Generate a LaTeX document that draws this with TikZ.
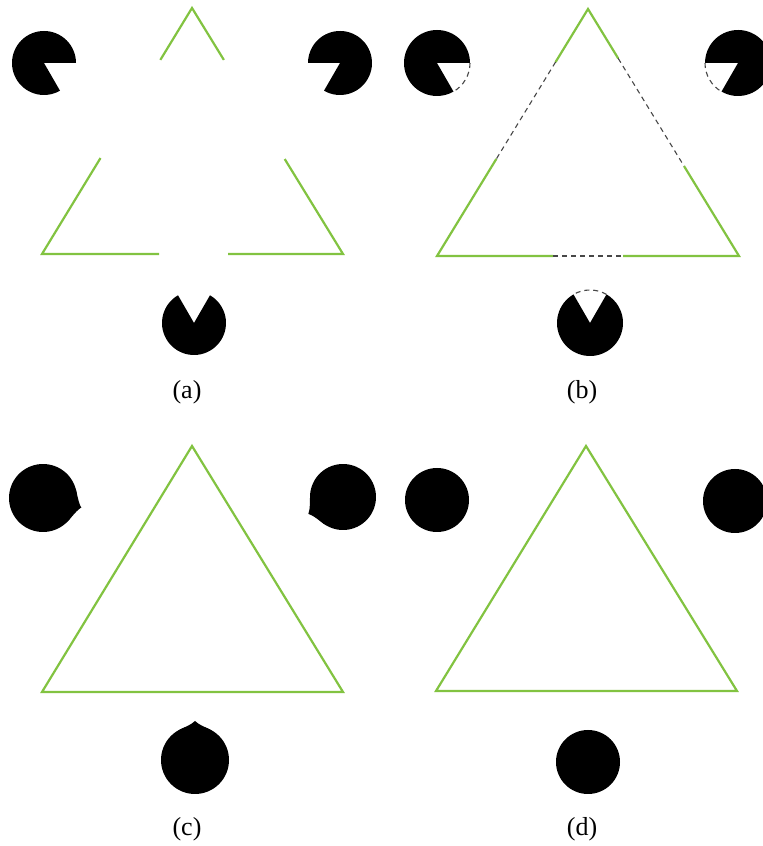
\documentclass[tikz,border=0pt]{standalone}
\usepackage{fontspec}
\setmainfont{Liberation Serif}
\usetikzlibrary{calc}
\definecolor{edgegreen}{HTML}{82C341}
\definecolor{gapgrey}{HTML}{474747}

\begin{document}
\begin{tikzpicture}[
  x=1pt, y=1pt,
  edge/.style={draw=edgegreen, line width=2.2pt, line join=miter},
  gap/.style={draw=gapgrey, line width=1.1pt, dash pattern=on 5pt off 4pt},
  disc/.style={fill=black},
  caption/.style={font=\fontsize{26}{30}\selectfont, inner sep=0pt}
]
\useasboundingbox (0,0) rectangle (763,846);

% (a) inducers and a broken outline
\fill[disc] (44,783) -- ++(0:32) arc[start angle=0, end angle=300, radius=32] -- cycle;
\fill[disc] (340,783) -- ++(240:32) arc[start angle=240, end angle=540, radius=32] -- cycle;
\fill[disc] (194,523) -- ++(120:32) arc[start angle=120, end angle=420, radius=32] -- cycle;
\coordinate (a1) at (192,838);
\coordinate (a2) at (42,592);
\coordinate (a3) at (343,592);
\draw[edge] ($(a1)!0.211!(a2)$) -- (a1) -- ($(a1)!0.211!(a3)$);
\draw[edge] ($(a1)!0.61!(a2)$) -- (a2) -- (159,592);
\draw[edge] (228,592) -- (a3) -- ($(a1)!0.614!(a3)$);
\node[caption] (cap-a) at (187,454) {(a)};

% (b) the same with the missing parts completed
\fill[disc] (437,783) -- ++(0:33) arc[start angle=0, end angle=300, radius=33] -- cycle;
\fill[disc] (738,783) -- ++(240:33) arc[start angle=240, end angle=540, radius=33] -- cycle;
\fill[disc] (590,523) -- ++(120:33) arc[start angle=120, end angle=420, radius=33] -- cycle;
\draw[gap] (437,783) ++(0:33) arc[start angle=0, end angle=-60, radius=33];
\draw[gap] (738,783) ++(180:33) arc[start angle=180, end angle=240, radius=33];
\draw[gap] (590,523) ++(60:33) arc[start angle=60, end angle=120, radius=33];
\coordinate (b1) at (588,837);
\coordinate (b2) at (437,590);
\coordinate (b3) at (739,590);
\coordinate (bl1) at ($(b1)!0.215!(b2)$);
\coordinate (bl2) at ($(b1)!0.607!(b2)$);
\coordinate (br1) at ($(b1)!0.2!(b3)$);
\coordinate (br2) at ($(b1)!0.636!(b3)$);
\coordinate (bb1) at (553,590);
\coordinate (bb2) at (623,590);
\draw[edge] (bl1) -- (b1) -- (br1);
\draw[edge] (bl2) -- (b2) -- (bb1);
\draw[edge] (bb2) -- (b3) -- (br2);
\draw[gap] (bl1) -- (bl2);
\draw[gap] (br1) -- (br2);
\draw[gap] (bb1) -- (bb2);
\node[caption] (cap-b) at (582,454) {(b)};

% (c) filled-in discs with small nubs
\begin{scope}[shift={(43,348)}, rotate=-14]
  \fill[disc] (0,0) circle[radius=34];
  \fill[disc] (29.4,17) .. controls (32,12.5) and (36,3) .. (39.5,0)
    .. controls (36,-3) and (32,-12.5) .. (29.4,-17) -- cycle;
\end{scope}
\begin{scope}[shift={(343,349)}, rotate=206]
  \fill[disc] (0,0) circle[radius=33];
  \fill[disc] (28.6,16.5) .. controls (31,12) and (35,3) .. (38.5,0)
    .. controls (35,-3) and (31,-12) .. (28.6,-16.5) -- cycle;
\end{scope}
\begin{scope}[shift={(195,86)}, rotate=90]
  \fill[disc] (0,0) circle[radius=34];
  \fill[disc] (29.4,17) .. controls (32,12.5) and (35.5,3) .. (39,0)
    .. controls (35.5,-3) and (32,-12.5) .. (29.4,-17) -- cycle;
\end{scope}
\coordinate (c1) at (192,400);
\coordinate (c2) at (42,154);
\coordinate (c3) at (343,154);
\draw[edge] (c1) -- (c2) -- (c3) -- cycle;
\node[caption] (cap-c) at (187,17) {(c)};

% (d) plain discs
\fill[disc] (437,346) circle[radius=32];
\fill[disc] (735,345) circle[radius=32];
\fill[disc] (588,84) circle[radius=32];
\coordinate (d1) at (586,400);
\coordinate (d2) at (436,155);
\coordinate (d3) at (737,155);
\draw[edge] (d1) -- (d2) -- (d3) -- cycle;
\node[caption] (cap-d) at (582,17) {(d)};
\end{tikzpicture}
\end{document}
